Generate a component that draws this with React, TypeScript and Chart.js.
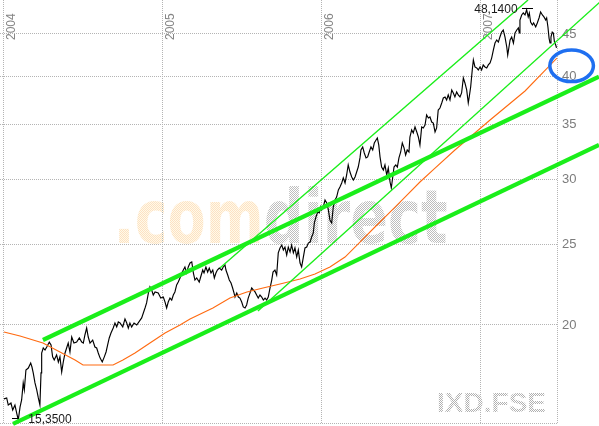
import React, { useEffect, useRef } from "react";
import { Chart, registerables } from "chart.js";

Chart.register(...registerables);

// ---------- axes ----------
const yearTicks = [2004, 2005, 2006, 2007];
const priceTicks = [20, 25, 30, 35, 40, 45];
const xMin = 2003.975;
const xMax = 2007.478;
const yMin = 15.22;
const yMax = 49.47;

// ---------- price (daily close, sampled) ----------
const priceYears = [
  2004.000, 2004.017, 2004.027, 2004.044, 2004.055, 2004.069, 2004.080, 2004.090, 2004.101, 2004.111,
  2004.121, 2004.128, 2004.138, 2004.153, 2004.168, 2004.176, 2004.184, 2004.195, 2004.206, 2004.216,
  2004.226, 2004.233, 2004.237, 2004.247, 2004.258, 2004.269, 2004.285, 2004.296, 2004.306, 2004.316,
  2004.331, 2004.342, 2004.352, 2004.363, 2004.373, 2004.384, 2004.394, 2004.404, 2004.415, 2004.426,
  2004.440, 2004.457, 2004.474, 2004.489, 2004.499, 2004.509, 2004.520, 2004.530, 2004.541, 2004.558,
  2004.572, 2004.583, 2004.593, 2004.604, 2004.618, 2004.631, 2004.642, 2004.652, 2004.662, 2004.673,
  2004.687, 2004.698, 2004.709, 2004.719, 2004.730, 2004.747, 2004.761, 2004.772, 2004.782, 2004.792,
  2004.803, 2004.818, 2004.835,
  2004.866, 2004.887, 2004.897, 2004.908, 2004.918, 2004.929, 2004.939, 2004.950, 2004.970, 2004.986,
  2005.002, 2005.013, 2005.023, 2005.033, 2005.044, 2005.055, 2005.065, 2005.075, 2005.086, 2005.096,
  2005.107, 2005.118, 2005.128, 2005.138, 2005.149, 2005.159, 2005.170, 2005.181, 2005.191, 2005.201,
  2005.212, 2005.228, 2005.237, 2005.250, 2005.258, 2005.270, 2005.281, 2005.291, 2005.302, 2005.313,
  2005.323, 2005.333, 2005.342, 2005.354, 2005.369, 2005.379, 2005.390, 2005.396, 2005.407, 2005.417,
  2005.428, 2005.438, 2005.447, 2005.453, 2005.464, 2005.474, 2005.484, 2005.495, 2005.505, 2005.516,
  2005.526, 2005.536, 2005.547, 2005.558, 2005.568, 2005.579, 2005.589, 2005.599, 2005.610, 2005.621,
  2005.631, 2005.642, 2005.652, 2005.662, 2005.673, 2005.684, 2005.692, 2005.704, 2005.715,
  2005.725, 2005.736, 2005.747, 2005.757, 2005.767, 2005.778, 2005.788, 2005.799, 2005.809, 2005.820,
  2005.830, 2005.841, 2005.851, 2005.862, 2005.872, 2005.882, 2005.893, 2005.904, 2005.914, 2005.925,
  2005.935, 2005.945, 2005.952, 2005.962, 2005.973, 2005.983, 2005.992, 2005.998, 2006.008, 2006.019,
  2006.030, 2006.040, 2006.050, 2006.061, 2006.071, 2006.082, 2006.092, 2006.103, 2006.113, 2006.124,
  2006.134, 2006.145, 2006.155, 2006.165, 2006.176, 2006.187, 2006.197, 2006.208, 2006.218, 2006.228,
  2006.239, 2006.245, 2006.256, 2006.266, 2006.277, 2006.287, 2006.297, 2006.308, 2006.319, 2006.329,
  2006.340, 2006.348, 2006.357, 2006.365, 2006.375, 2006.386, 2006.396, 2006.407, 2006.417, 2006.428,
  2006.436, 2006.445, 2006.453, 2006.464, 2006.474, 2006.484, 2006.495, 2006.505, 2006.516, 2006.526,
  2006.536, 2006.547,
  2006.553, 2006.564, 2006.574, 2006.585, 2006.596, 2006.606, 2006.616, 2006.627, 2006.637, 2006.648,
  2006.658, 2006.669, 2006.679, 2006.690, 2006.700, 2006.711, 2006.721, 2006.731, 2006.742, 2006.753,
  2006.763, 2006.774, 2006.784, 2006.794, 2006.805, 2006.816, 2006.826, 2006.836, 2006.847, 2006.857,
  2006.868, 2006.878, 2006.889, 2006.899, 2006.910, 2006.920, 2006.926, 2006.935, 2006.945, 2006.952,
  2006.962, 2006.973, 2006.983, 2006.994, 2007.004, 2007.014, 2007.025, 2007.036, 2007.046, 2007.057,
  2007.067, 2007.078, 2007.088, 2007.099, 2007.109, 2007.119, 2007.130, 2007.140, 2007.151, 2007.162,
  2007.168, 2007.176, 2007.183, 2007.193, 2007.204, 2007.214, 2007.225, 2007.235, 2007.241, 2007.245,
  2007.256, 2007.266, 2007.277, 2007.287, 2007.297, 2007.304, 2007.312, 2007.323, 2007.331, 2007.344,
  2007.354, 2007.365, 2007.375, 2007.386, 2007.396, 2007.407, 2007.413, 2007.421, 2007.428, 2007.434,
  2007.440, 2007.448, 2007.455, 2007.462, 2007.470, 2007.475,
];
const priceValues = [
  16.28, 16.32, 16.00, 16.09, 15.78, 16.00, 15.65, 15.35, 15.91, 16.23,
  17.02, 16.69, 17.64, 17.74, 17.99, 17.79, 17.50, 17.02, 16.69, 16.32,
  16.00, 17.50, 18.50, 18.76, 18.65, 18.81, 19.07, 18.92, 18.30, 18.14,
  18.40, 18.04, 18.30, 17.54, 18.04, 18.50, 18.76, 19.02, 18.55, 19.34,
  19.02, 19.07, 19.29, 19.07, 19.02, 19.45, 19.83, 19.34, 19.02, 19.18,
  18.81, 18.76, 18.50, 18.25, 18.04, 18.30, 18.55, 18.92, 19.29, 19.56,
  19.83, 20.11, 19.89, 20.17, 20.11, 19.89, 20.34, 20.11, 19.83, 20.11,
  19.89, 20.11, 20.00,
  20.40, 20.97, 21.27, 21.86, 22.24, 22.05, 21.74, 21.93, 21.86, 21.56,
  21.62, 21.32, 20.97, 21.32, 21.56, 21.44, 21.74, 21.93, 22.36, 22.54,
  22.80, 23.12, 23.31, 23.51, 23.12, 23.51, 23.77, 23.84, 23.12, 22.67,
  22.80, 22.54, 22.86, 23.31, 23.12, 23.51, 23.18, 23.44, 23.12, 23.31,
  22.80, 23.12, 23.31, 23.44, 23.31, 23.51, 23.64, 23.31, 22.99, 22.67,
  22.48, 22.17, 21.86, 21.62, 21.86, 21.62, 21.56, 21.32, 21.03, 20.97,
  21.15, 21.56, 21.86, 22.17, 22.05, 21.93, 21.74, 21.56, 21.74, 21.62,
  21.44, 21.56, 21.44, 21.62, 22.17, 22.67, 23.18, 23.31, 22.99,
  24.45, 24.79, 24.99, 24.65, 24.85, 24.31, 24.85, 24.51, 24.99, 24.45,
  24.79, 24.17, 24.65, 23.77, 23.51, 24.11, 24.79, 24.85, 25.13, 25.20,
  25.56, 25.84, 26.58, 27.02, 27.40, 27.33, 27.79, 27.56, 27.79, 28.33,
  28.10, 27.56, 26.80, 26.58, 27.79, 28.33, 28.57, 29.14, 29.38, 29.71,
  30.13, 29.71, 30.38, 31.24, 30.63, 30.21, 29.96, 30.21, 30.63, 31.06,
  31.86, 32.57, 32.85, 32.30, 31.86, 31.95, 32.39, 32.85, 32.57, 33.21,
  33.49, 33.68, 33.03, 31.95, 31.06, 30.80, 31.24, 30.38, 30.97, 29.79,
  29.30, 30.21, 31.06, 31.24, 31.06, 31.86, 32.39, 33.21, 32.76, 32.12,
  32.57, 32.39,
  33.77, 34.44, 34.15, 34.73, 34.25, 33.77, 33.03, 34.73, 34.63, 34.92,
  35.91, 35.61, 35.71, 35.21, 35.11, 34.25, 34.63, 36.41, 36.61, 37.13,
  37.65, 37.76, 37.44, 37.97, 37.44, 38.50, 38.18, 37.76, 38.29, 37.97,
  37.76, 38.18, 39.81, 39.26, 38.50, 37.13, 37.76, 38.82, 40.71, 41.85,
  41.05, 40.94, 40.71, 41.05, 40.71, 41.28, 41.05, 40.94, 41.28, 41.51,
  42.08, 43.04, 43.88, 44.25, 44.00, 44.62, 45.25, 45.50, 44.62, 43.40,
  42.44, 43.40, 44.25, 44.62, 43.88, 45.12, 45.50, 45.76, 45.12, 46.79,
  47.45, 47.71, 47.45, 48.14, 47.19, 47.71, 46.53, 46.14, 46.40, 45.89,
  46.40, 47.05, 47.85, 47.45, 47.19, 46.79, 47.05, 45.89, 44.49, 43.88,
  44.62, 45.25, 45.12, 44.00, 43.64, 43.28,
];

// ---------- moving average ----------
const maYears = [
  2004.000, 2004.101, 2004.245, 2004.352, 2004.447, 2004.497, 2004.686, 2004.748, 2004.824, 2004.918,
  2005.013, 2005.107, 2005.170, 2005.314, 2005.421, 2005.528, 2005.629, 2005.736, 2005.862, 2005.956,
  2006.050, 2006.145, 2006.239, 2006.333, 2006.428, 2006.522, 2006.616, 2006.711, 2006.836, 2007.057,
  2007.277, 2007.478,
];
const maValues = [
  19.61, 19.40, 19.02, 18.55, 18.14, 17.89, 17.89, 18.14, 18.50, 19.02,
  19.56, 20.00, 20.34, 20.97, 21.56, 21.93, 22.17, 22.42, 22.74, 23.05,
  23.51, 24.17, 25.20, 26.28, 27.40, 28.57, 29.79, 30.97, 32.57, 35.41,
  38.39, 42.08,
];

// ---------- drawn trend lines ----------
const upperBandYears = [2004.245, 2007.742];
const upperBandValues = [19.18, 39.96];
const lowerBandYears = [2004.057, 2007.742];
const lowerBandValues = [15.18, 33.03];
const upperChannelYears = [2005.358, 2007.296];
const upperChannelValues = [23.44, 49.47];
const lowerChannelYears = [2005.597, 2007.748];
const lowerChannelValues = [20.79, 49.19];

// ---------- annotations ----------
const maxLabel = "48,1400";
const minLabel = "15,3500";
const circleYear = 2007.57;
const circleValue = 41.18;
const brandDot = ".com";
const brandWord = "direct";
const symbolLabel = "IXD.FSE";

const GRID = "#b4b4b4";
const GREEN = "#1aee1a";

function pts(xs: number[], ys: number[]) {
  return xs.map((x, i) => ({ x, y: ys[i] }));
}

function makePattern(c1: string, c2: string | null) {
  const cv = document.createElement("canvas");
  cv.width = 2;
  cv.height = 2;
  const g = cv.getContext("2d")!;
  g.fillStyle = c1;
  g.fillRect(0, 0, 1, 1);
  g.fillRect(1, 1, 1, 1);
  if (c2) {
    g.fillStyle = c2;
    g.fillRect(1, 0, 1, 1);
    g.fillRect(0, 1, 1, 1);
  }
  return cv;
}

function patternText(
  ctx: CanvasRenderingContext2D,
  W: number,
  H: number,
  text: string,
  x: number,
  y: number,
  sx: number,
  font: string,
  align: CanvasTextAlign,
  c1: string,
  c2: string | null
) {
  const off = document.createElement("canvas");
  off.width = W;
  off.height = H;
  const o = off.getContext("2d")!;
  o.save();
  o.translate(x, y);
  o.scale(sx, 1);
  o.font = font;
  o.textAlign = align;
  o.textBaseline = "alphabetic";
  o.fillStyle = "#000";
  o.fillText(text, 0, 0);
  o.restore();
  o.globalCompositeOperation = "source-in";
  const pat = o.createPattern(makePattern(c1, c2), "repeat")!;
  o.fillStyle = pat;
  o.fillRect(0, 0, W, H);
  ctx.drawImage(off, 0, 0);
}

export default function App() {
  const ref = useRef<HTMLCanvasElement>(null);

  useEffect(() => {
    const canvas = ref.current!;
    const watermark = {
      id: "watermark",
      beforeDraw(chart: any) {
        const { ctx, chartArea: ca, width, height } = chart;
        const font = 'bold 74px "DejaVu Sans", sans-serif';
        ctx.save();
        ctx.font = font;
        const w1 = ctx.measureText(brandDot).width;
        const w2 = ctx.measureText(brandWord).width;
        ctx.restore();
        const target = 334;
        const s = target / (w1 + w2);
        const left = ca.left + (ca.right - ca.left) / 2 - target / 2 + 2;
        const base = ca.top + 243;
        patternText(ctx, width, height, brandDot, left, base, s, font, "left", "#fde0c4", "#fffbe8");
        patternText(ctx, width, height, brandWord, left + w1 * s, base, s, font, "left", "#bdbdbd", null);
        patternText(
          ctx, width, height, symbolLabel, ca.right - 11, ca.bottom - 11, 1,
          'bold 28px "Liberation Sans", Arial, sans-serif', "right", "#b0b0b0", null
        );
      },
    };

    const yearLabels = {
      id: "yearLabels",
      beforeDatasetsDraw(chart: any) {
        const { ctx, chartArea: ca } = chart;
        const xs = chart.scales.x;
        ctx.save();
        ctx.fillStyle = "#858585";
        ctx.font = '12px "Liberation Sans", Arial, sans-serif';
        ctx.textAlign = "left";
        ctx.textBaseline = "alphabetic";
        yearTicks.forEach((yr) => {
          const px = xs.getPixelForValue(yr);
          ctx.save();
          ctx.translate(px + 11, ca.top + 40);
          ctx.rotate(-Math.PI / 2);
          ctx.fillText(String(yr), 0, 0);
          ctx.restore();
        });
        ctx.restore();
      },
    };

    const extremes = {
      id: "extremes",
      afterDatasetsDraw(chart: any) {
        const { ctx } = chart;
        const xs = chart.scales.x;
        const ys = chart.scales.y;
        let iMax = 0;
        let iMin = 0;
        priceValues.forEach((v, i) => {
          if (v > priceValues[iMax]) iMax = i;
          if (v < priceValues[iMin]) iMin = i;
        });
        const mx = xs.getPixelForValue(priceYears[iMax]);
        const my = ys.getPixelForValue(priceValues[iMax]);
        const nx = xs.getPixelForValue(priceYears[iMin]);
        const ny = ys.getPixelForValue(priceValues[iMin]);
        ctx.save();
        ctx.strokeStyle = "#000";
        ctx.lineWidth = 1;
        ctx.beginPath();
        ctx.moveTo(Math.round(mx) - 5, Math.round(my) - 1.5);
        ctx.lineTo(Math.round(mx) + 6, Math.round(my) - 1.5);
        ctx.moveTo(Math.round(nx) - 6, Math.round(ny) - 1.5);
        ctx.lineTo(Math.round(nx), Math.round(ny) - 1.5);
        ctx.stroke();
        ctx.fillStyle = "#1a1a1a";
        ctx.font = '12px "Liberation Sans", Arial, sans-serif';
        ctx.textBaseline = "alphabetic";
        ctx.textAlign = "right";
        ctx.fillText(maxLabel, mx - 9, my + 3);
        ctx.textAlign = "left";
        ctx.fillText(minLabel, nx + 10, ny + 3);
        ctx.restore();
      },
      afterDraw(chart: any) {
        const { ctx } = chart;
        const cx = chart.scales.x.getPixelForValue(circleYear);
        const cy = chart.scales.y.getPixelForValue(circleValue);
        ctx.save();
        ctx.strokeStyle = "#1f6ff0";
        ctx.lineWidth = 3.5;
        ctx.beginPath();
        ctx.ellipse(cx, cy, 21.8, 15.8, 0, 0, Math.PI * 2);
        ctx.stroke();
        ctx.restore();
      },
    };

    const trend = (xs: number[], ys: number[], w: number) => ({
      data: pts(xs, ys),
      borderColor: GREEN,
      borderWidth: w,
      pointRadius: 0,
      clip: false as any,
      borderCapStyle: "butt" as const,
    });

    const chart = new Chart(canvas, {
      type: "line",
      data: {
        datasets: [
          trend(upperBandYears, upperBandValues, 4.2),
          trend(lowerBandYears, lowerBandValues, 4.2),
          trend(upperChannelYears, upperChannelValues, 1.4),
          trend(lowerChannelYears, lowerChannelValues, 1.4),
          {
            data: pts(maYears, maValues),
            borderColor: "#ff6a10",
            borderWidth: 1.1,
            pointRadius: 0,
          },
          {
            data: pts(priceYears, priceValues),
            borderColor: "#000000",
            borderWidth: 1.15,
            pointRadius: 0,
          },
        ],
      },
      options: {
        responsive: false,
        animation: false,
        devicePixelRatio: 1,
        events: [],
        layout: { autoPadding: false, padding: { left: 0, top: 0, right: 0, bottom: 3 } },
        elements: { line: { tension: 0 }, point: { radius: 0 } },
        plugins: { legend: { display: false }, tooltip: { enabled: false } },
        scales: {
          x: {
            type: "linear",
            min: xMin,
            max: xMax,
            position: "bottom",
            afterBuildTicks: (s: any) => {
              s.ticks = [...yearTicks, xMax].map((v) => ({ value: v }));
            },
            afterFit: (s: any) => {
              s.height = 0;
              s.paddingLeft = 0;
              s.paddingRight = 0;
            },
            ticks: { display: false },
            grid: { color: GRID, lineWidth: 1, drawTicks: false, tickLength: 0 },
            border: { display: false, dash: [1, 1] },
          },
          y: {
            type: "logarithmic",
            position: "right",
            min: yMin,
            max: yMax,
            bounds: "data",
            afterBuildTicks: (s: any) => {
              s.ticks = [yMin, ...priceTicks].map((v) => ({ value: v }));
            },
            afterFit: (s: any) => {
              s.width = 42;
              s.paddingTop = 0;
              s.paddingBottom = 0;
            },
            ticks: {
              autoSkip: false,
              padding: 5,
              color: "#7c7c7c",
              font: { family: '"Liberation Sans", Arial, sans-serif', size: 13 },
              callback: (v: any) => (priceTicks.includes(Number(v)) ? String(v) : ""),
            },
            grid: { color: GRID, lineWidth: 1, drawTicks: false, tickLength: 0 },
            border: { display: false, dash: [1, 1] },
          },
        },
      } as any,
      plugins: [watermark, yearLabels, extremes],
    });
    return () => chart.destroy();
  }, []);

  return (
    <div style={{ position: "fixed", left: 0, top: 0, width: 599, height: 426, background: "#fff" }}>
      <canvas ref={ref} width={599} height={426} style={{ display: "block", width: 599, height: 426 }} />
    </div>
  );
}
